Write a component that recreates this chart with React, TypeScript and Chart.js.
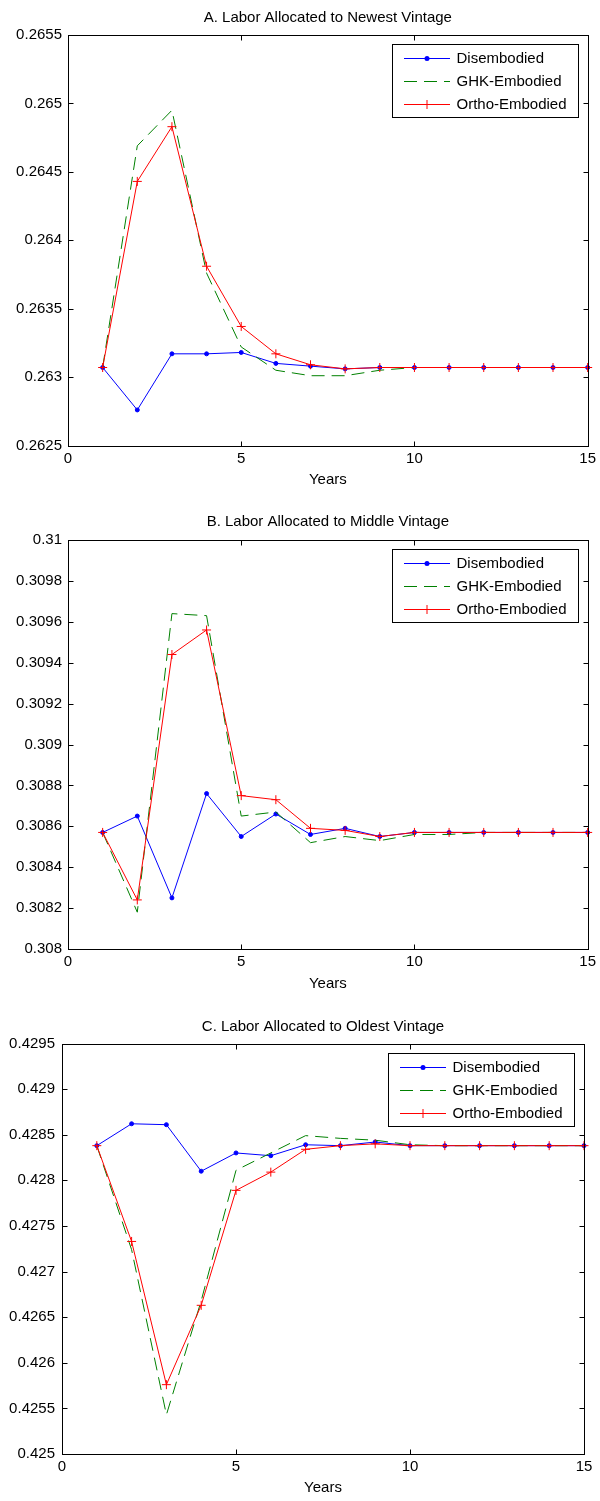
import React, { useEffect, useRef } from "react";
import { Chart, registerables } from "chart.js";

Chart.register(...registerables);

// ---------------- data ----------------
const years = [1, 2, 3, 4, 5, 6, 7, 8, 9, 10, 11, 12, 13, 14, 15];
const xTickValues = [0, 5, 10, 15];
const seriesNames = ["Disembodied", "GHK-Embodied", "Ortho-Embodied"];
const xAxisTitle = "Years";

const titleA = "A. Labor Allocated to Newest Vintage";
const disembodiedA = [0.26307, 0.26276, 0.26317, 0.26317, 0.26318, 0.2631, 0.26308, 0.26306, 0.26307, 0.26307, 0.26307, 0.26307, 0.26307, 0.26307, 0.26307];
const ghkA = [0.26307, 0.26469, 0.26495, 0.26376, 0.26322, 0.26305, 0.26301, 0.26301, 0.26305, 0.26307, 0.26307, 0.26307, 0.26307, 0.26307, 0.26307];
const orthoA = [0.26307, 0.26443, 0.26483, 0.26381, 0.26337, 0.26317, 0.26309, 0.26306, 0.26307, 0.26307, 0.26307, 0.26307, 0.26307, 0.26307, 0.26307];
const yTicksA = [0.2625, 0.263, 0.2635, 0.264, 0.2645, 0.265, 0.2655];

const titleB = "B. Labor Allocated to Middle Vintage";
const disembodiedB = [0.30857, 0.30865, 0.30825, 0.30876, 0.30855, 0.30866, 0.30856, 0.30859, 0.30855, 0.30857, 0.30857, 0.30857, 0.30857, 0.30857, 0.30857];
const ghkB = [0.30857, 0.30818, 0.30964, 0.30963, 0.30865, 0.30867, 0.30852, 0.30855, 0.30853, 0.30856, 0.30856, 0.30857, 0.30857, 0.30857, 0.30857];
const orthoB = [0.30857, 0.30824, 0.30944, 0.30956, 0.30875, 0.30873, 0.30859, 0.30858, 0.30855, 0.30857, 0.30857, 0.30857, 0.30857, 0.30857, 0.30857];
const yTicksB = [0.308, 0.3082, 0.3084, 0.3086, 0.3088, 0.309, 0.3092, 0.3094, 0.3096, 0.3098, 0.31];

const titleC = "C. Labor Allocated to Oldest Vintage";
const disembodiedC = [0.42838, 0.42862, 0.42861, 0.4281, 0.4283, 0.42827, 0.42839, 0.42838, 0.42842, 0.42838, 0.42838, 0.42838, 0.42838, 0.42838, 0.42838];
const ghkC = [0.42838, 0.42724, 0.42543, 0.42668, 0.42811, 0.4283, 0.42849, 0.42846, 0.42844, 0.42839, 0.42838, 0.42838, 0.42838, 0.42838, 0.42838];
const orthoC = [0.42838, 0.42733, 0.42576, 0.42663, 0.42789, 0.42809, 0.42834, 0.42838, 0.4284, 0.42838, 0.42838, 0.42838, 0.42838, 0.42838, 0.42838];
const yTicksC = [0.425, 0.4255, 0.426, 0.4265, 0.427, 0.4275, 0.428, 0.4285, 0.429, 0.4295];

// ---------------- styles / layout ----------------
const FONT_FAMILY = "Arial, 'Liberation Sans', Helvetica, sans-serif";
const FONT = { family: FONT_FAMILY, size: 15, weight: "normal" as const, lineHeight: 1.2 };
const COLORS = ["#0000ff", "#008000", "#ff0000"];

type Panel = {
  title: string;
  series: number[][];
  yTicks: number[];
  top: number;
  height: number;
  areaTop: number;
  areaBottom: number;
  left: number;
  right: number;
  titleY: number;
  yearsY: number;
  yPad: number;
};

const panels: Panel[] = [
  { title: titleA, series: [disembodiedA, ghkA, orthoA], yTicks: yTicksA, top: 0, height: 495, areaTop: 35, areaBottom: 445.5, left: 68, right: 589, titleY: 18, yearsY: 480, yPad: 6 },
  { title: titleB, series: [disembodiedB, ghkB, orthoB], yTicks: yTicksB, top: 495, height: 500, areaTop: 45, areaBottom: 454, left: 68, right: 589, titleY: 27, yearsY: 489, yPad: 6 },
  { title: titleC, series: [disembodiedC, ghkC, orthoC], yTicks: yTicksC, top: 995, height: 506, areaTop: 48.5, areaBottom: 459, left: 62, right: 584, titleY: 32, yearsY: 493, yPad: 7 },
];

function drawMarker(ctx: CanvasRenderingContext2D, style: string, x: number, y: number, color: string) {
  ctx.save();
  ctx.setLineDash([]);
  if (style === "circle") {
    ctx.fillStyle = color;
    ctx.beginPath();
    ctx.arc(x, y, 2.5, 0, Math.PI * 2);
    ctx.fill();
  } else if (style === "cross") {
    ctx.strokeStyle = color;
    ctx.lineWidth = 1;
    ctx.beginPath();
    ctx.moveTo(x - 4.5, y);
    ctx.lineTo(x + 4.5, y);
    ctx.moveTo(x, y - 4.5);
    ctx.lineTo(x, y + 4.5);
    ctx.stroke();
  }
  ctx.restore();
}

const framePlugin = {
  id: "matlabFrame",
  afterDraw(chart: any) {
    const { ctx, chartArea } = chart;
    const { left, right, top, bottom } = chartArea;
    const L = Math.round(left) + 0.5;
    const R = Math.round(right) + 0.5;
    const T = Math.round(top) + 0.5;
    const B = Math.round(bottom) + 0.5;
    ctx.save();
    ctx.strokeStyle = "#000";
    ctx.lineWidth = 1;
    ctx.setLineDash([]);
    ctx.strokeRect(L, T, R - L, B - T);
    const tl = 5;
    ctx.beginPath();
    const yScale = chart.scales.y;
    yScale.ticks.forEach((t: any) => {
      const py = Math.round(yScale.getPixelForValue(t.value)) + 0.5;
      ctx.moveTo(L, py);
      ctx.lineTo(L + tl, py);
      ctx.moveTo(R, py);
      ctx.lineTo(R - tl, py);
    });
    const xScale = chart.scales.x;
    xScale.ticks.forEach((t: any) => {
      const px = Math.round(xScale.getPixelForValue(t.value)) + 0.5;
      ctx.moveTo(px, B);
      ctx.lineTo(px, B - tl);
      ctx.moveTo(px, T);
      ctx.lineTo(px, T + tl);
    });
    ctx.stroke();

    // legend box (inside, north-east)
    const w = 186;
    const h = 73;
    const bx = Math.round(R - 11 - w);
    const by = Math.round(T + 8.5);
    ctx.fillStyle = "#fff";
    ctx.fillRect(bx, by, w, h);
    ctx.strokeStyle = "#000";
    ctx.strokeRect(bx + 0.5, by + 0.5, w, h);
    chart.data.datasets.forEach((ds: any, i: number) => {
      const y = Math.round(by + 13.7 + i * 23.2) + 0.5;
      const x0 = bx + 12;
      const x1 = bx + 58;
      ctx.save();
      ctx.strokeStyle = ds.borderColor;
      ctx.lineWidth = 1;
      ctx.setLineDash(ds.borderDash || []);
      ctx.beginPath();
      ctx.moveTo(x0, y);
      ctx.lineTo(x1, y);
      ctx.stroke();
      ctx.restore();
      if (ds.pointRadius > 0) drawMarker(ctx, ds.pointStyle, (x0 + x1) / 2, y, ds.borderColor);
      ctx.fillStyle = "#000";
      ctx.font = `15px ${FONT_FAMILY}`;
      ctx.textAlign = "left";
      ctx.textBaseline = "middle";
      ctx.fillText(ds.label, bx + 64.5, y + 0.5);
    });
    ctx.restore();
  },
};

function PanelChart({ p }: { p: Panel }) {
  const ref = useRef<HTMLCanvasElement | null>(null);
  useEffect(() => {
    if (!ref.current) return;
    const [dis, ghk, ort] = p.series;
    const toPts = (arr: number[]) => years.map((x, i) => ({ x, y: arr[i] }));
    const chart = new Chart(ref.current, {
      type: "line",
      data: {
        datasets: [
          {
            label: seriesNames[0],
            data: toPts(dis),
            borderColor: COLORS[0],
            backgroundColor: COLORS[0],
            borderWidth: 1,
            pointStyle: "circle",
            pointRadius: 2,
            pointBorderWidth: 1,
            pointBackgroundColor: COLORS[0],
            fill: false,
            tension: 0,
            clip: false,
            order: 3,
          },
          {
            label: seriesNames[1],
            data: toPts(ghk),
            borderColor: COLORS[1],
            backgroundColor: COLORS[1],
            borderWidth: 1,
            borderDash: [13, 7],
            pointRadius: 0,
            fill: false,
            tension: 0,
            clip: false,
            order: 2,
          },
          {
            label: seriesNames[2],
            data: toPts(ort),
            borderColor: COLORS[2],
            backgroundColor: COLORS[2],
            borderWidth: 1,
            pointStyle: "cross",
            pointRadius: 4.5,
            pointBorderWidth: 1,
            fill: false,
            tension: 0,
            clip: false,
            order: 1,
          },
        ] as any,
      },
      options: {
        animation: false,
        responsive: false,
        maintainAspectRatio: false,
        devicePixelRatio: 1,
        events: [],
        layout: { padding: { left: 0, right: 600 - p.right, top: 0, bottom: 0 } },
        plugins: {
          legend: { display: false },
          tooltip: { enabled: false },
          title: {
            display: true,
            text: p.title,
            color: "#000",
            fullSize: false,
            font: FONT,
            padding: { top: p.titleY - 9, bottom: p.areaTop - p.titleY - 9 },
          },
        },
        scales: {
          x: {
            type: "linear",
            min: 0,
            max: 15,
            afterBuildTicks: (s: any) => {
              s.ticks = xTickValues.map((v) => ({ value: v }));
            },
            afterFit: (s: any) => {
              s.height = p.height - p.areaBottom;
            },
            grid: { display: false, drawTicks: false },
            border: { display: false },
            ticks: {
              padding: 4,
              color: "#000",
              font: FONT,
              maxRotation: 0,
              autoSkip: false,
              callback: (v: any) => String(v),
            },
            title: {
              display: true,
              text: xAxisTitle,
              color: "#000",
              font: FONT,
              padding: { top: 0, bottom: p.height - p.yearsY - 9 },
            },
          },
          y: {
            type: "linear",
            min: p.yTicks[0],
            max: p.yTicks[p.yTicks.length - 1],
            afterBuildTicks: (s: any) => {
              s.ticks = p.yTicks.map((v) => ({ value: v }));
            },
            afterFit: (s: any) => {
              s.width = p.left;
            },
            grid: { display: false, drawTicks: false },
            border: { display: false },
            ticks: {
              padding: p.yPad,
              color: "#000",
              font: FONT,
              autoSkip: false,
              callback: (v: any) => String(v),
            },
          },
        },
      } as any,
      plugins: [framePlugin],
    });
    return () => chart.destroy();
  }, [p]);
  return (
    <canvas
      ref={ref}
      width={600}
      height={p.height}
      style={{ position: "absolute", left: 0, top: p.top, width: 600, height: p.height, display: "block" }}
    />
  );
}

export default function App() {
  return (
    <div style={{ position: "absolute", left: 0, top: 0, width: 600, height: 1501, background: "#fff", overflow: "hidden" }}>
      {panels.map((p, i) => (
        <PanelChart key={i} p={p} />
      ))}
    </div>
  );
}
